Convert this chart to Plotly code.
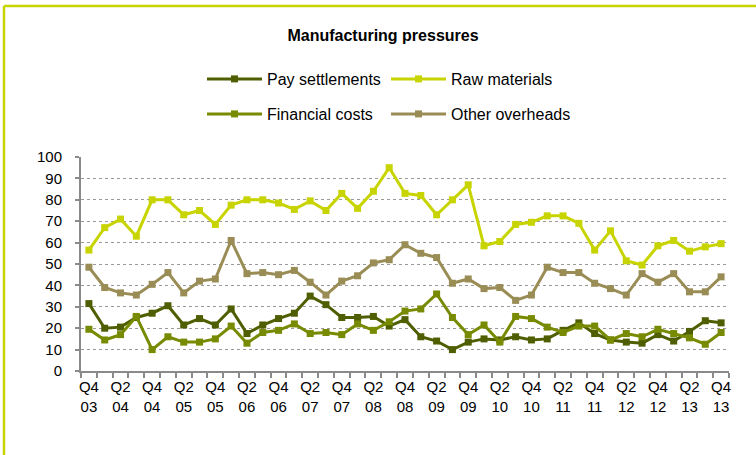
import plotly.graph_objects as go

# Quarterly survey balances, Q4 2003 - Q4 2013
quarters = [
    "Q4 03", "Q1 04", "Q2 04", "Q3 04", "Q4 04", "Q1 05", "Q2 05", "Q3 05", "Q4 05",
    "Q1 06", "Q2 06", "Q3 06", "Q4 06", "Q1 07", "Q2 07", "Q3 07", "Q4 07",
    "Q1 08", "Q2 08", "Q3 08", "Q4 08", "Q1 09", "Q2 09", "Q3 09", "Q4 09",
    "Q1 10", "Q2 10", "Q3 10", "Q4 10", "Q1 11", "Q2 11", "Q3 11", "Q4 11",
    "Q1 12", "Q2 12", "Q3 12", "Q4 12", "Q1 13", "Q2 13", "Q3 13", "Q4 13",
]
pay_settlements = [31.5, 20, 20.5, 25, 27, 30.5, 21.5, 24.5, 21.5, 29, 17.5, 21.5, 24.5, 27, 35,
                   31, 25, 25, 25.5, 21, 24, 16, 14, 10, 13.5, 15, 14.5, 16, 14.5, 15,
                   19, 22.5, 17.5, 14.5, 13.5, 13, 17, 14, 18.5, 23.5, 22.5]
raw_materials = [56.5, 67, 71, 63, 80, 80, 73, 75, 68.5, 77.5, 80, 80, 78.5, 75.5, 79.5,
                 75, 83, 76, 84, 95, 83, 82, 73, 80, 87, 58.5, 60.5, 68.5, 69.5, 72.5,
                 72.5, 69, 56.5, 65.5, 51.5, 49.5, 58.5, 61, 56, 58, 59.5]
financial_costs = [19.5, 14.5, 17, 25.5, 10, 16, 13.5, 13.5, 15, 21, 13, 18, 19, 22, 17.5,
                   18, 17, 22, 19, 23, 28, 29, 36, 25, 17, 21.5, 13.5, 25.5, 24.5, 20.5,
                   18, 21, 21, 14.5, 17.5, 16, 19.5, 17.5, 15.5, 12.5, 18]
other_overheads = [48.5, 39, 36.5, 35.5, 40.5, 46, 36.5, 42, 43, 61, 45.5, 46, 45, 47, 41.5,
                   35.5, 42, 44.5, 50.5, 52, 59, 55, 53, 41, 43, 38.5, 39, 33, 35.5, 48.5,
                   46, 46, 41, 38.5, 35.5, 45.5, 41.5, 45.5, 37, 37, 44]

# Every second quarter is labelled on the axis
tick_labels = ["Q4<br>03", "Q2<br>04", "Q4<br>04", "Q2<br>05", "Q4<br>05", "Q2<br>06",
               "Q4<br>06", "Q2<br>07", "Q4<br>07", "Q2<br>08", "Q4<br>08", "Q2<br>09",
               "Q4<br>09", "Q2<br>10", "Q4<br>10", "Q2<br>11", "Q4<br>11", "Q2<br>12",
               "Q4<br>12", "Q2<br>13", "Q4<br>13"]

FONT = "Liberation Sans, Arial, sans-serif"
x = list(range(len(quarters)))

series = [
    ("Pay settlements", pay_settlements, "#4f5e00", "legend"),
    ("Raw materials", raw_materials, "#c8d400", "legend"),
    ("Financial costs", financial_costs, "#778a00", "legend2"),
    ("Other overheads", other_overheads, "#998c55", "legend2"),
]

fig = go.Figure()
for name, vals, color, leg in series:
    fig.add_trace(go.Scatter(
        x=x, y=vals, name=name, mode="lines+markers",
        line=dict(color=color, width=3),
        marker=dict(symbol="square", size=7, color=color),
        customdata=quarters, hovertemplate="%{customdata}: %{y}<extra>" + name + "</extra>",
        legend=leg,
    ))

# Plot area spans 81..729 px horizontally, 157..371 px vertically
L, R, T, B = 81, 27, 157, 84
W, H = 756, 455
pw, ph = W - L - R, H - T - B

def px_x(px):
    return (px - L) / pw

def px_y(py):
    return (H - B - py) / ph

leg_common = dict(orientation="h", xanchor="left", yanchor="middle",
                  entrywidth=114, entrywidthmode="pixels",
                  font=dict(family=FONT, size=16, color="#000000"),
                  bgcolor="rgba(0,0,0,0)", itemwidth=55, tracegroupgap=0)

fig.update_layout(
    width=W, height=H,
    margin=dict(l=L, r=R, t=T, b=B),
    paper_bgcolor="white", plot_bgcolor="white",
    font=dict(family=FONT, size=15, color="#000000"),
    title=dict(text="<b>Manufacturing pressures</b>", x=383 / W, xanchor="center",
               y=1 - 35 / H, yanchor="middle", font=dict(family=FONT, size=16, color="#000000")),
    legend=dict(x=px_x(202), y=px_y(79), **leg_common),
    legend2=dict(x=px_x(202), y=px_y(114), **leg_common),
    showlegend=True,
    xaxis=dict(
        range=[-0.5, len(quarters) - 0.5],
        tickmode="array", tickvals=x[::2], ticktext=tick_labels,
        ticks="", ticklabelstandoff=1,
        tickfont=dict(family=FONT, size=15, color="#000000"),
        showgrid=False, zeroline=False,
        showline=True, linecolor="#8a8a8a", linewidth=2,
        minor=dict(ticks="outside", tick0=-0.5, dtick=1, ticklen=5,
                   tickcolor="#8a8a8a", tickwidth=2, showgrid=False),
        fixedrange=True,
    ),
    yaxis=dict(
        range=[0, 100], tickmode="linear", tick0=0, dtick=10,
        ticks="outside", ticklen=4, tickcolor="#8a8a8a", tickwidth=2,
        ticklabelstandoff=10,
        tickfont=dict(family=FONT, size=15, color="#000000"),
        showgrid=True, gridcolor="#9a9a9a", griddash="dot", gridwidth=1,
        zeroline=False,
        showline=True, linecolor="#8a8a8a", linewidth=2,
        fixedrange=True,
    ),
    shapes=[
        # lime frame along the top and left edges
        dict(type="line", xref="paper", yref="paper",
             x0=px_x(4), x1=px_x(770), y0=px_y(6), y1=px_y(6),
             line=dict(color="#c8d400", width=2.5)),
        dict(type="line", xref="paper", yref="paper",
             x0=px_x(4), x1=px_x(4), y0=px_y(6), y1=px_y(470),
             line=dict(color="#c8d400", width=2.5)),
    ],
)

fig.write_html("out.html")
